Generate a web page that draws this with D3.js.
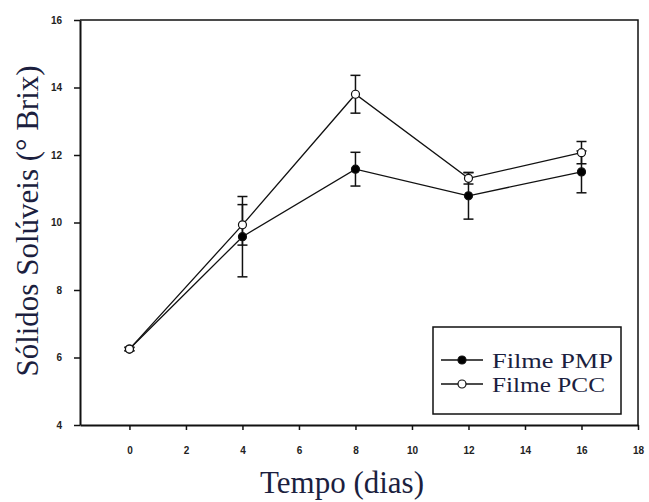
<!DOCTYPE html>
<html>
<head>
<meta charset="utf-8">
<script src="https://cdn.jsdelivr.net/npm/d3@7"></script>
<style>
  body { margin: 0; background: #fff; }
  .tick text { font-family: "Liberation Sans", Arial, sans-serif; font-weight: bold; font-size: 10px; fill: #222; }
</style>
</head>
<body>
<div id="chart"></div>
<script>
// days and means
var days = [0, 4, 8, 12, 16];
var pmp = [6.25, 9.58, 11.58, 10.79, 11.5];
var pmpErr = [0.05, 1.19, 0.5, 0.69, 0.62];
var pcc = [6.25, 9.93, 13.8, 11.31, 12.07];
var pccErr = [0.05, 0.6, 0.56, 0.17, 0.33];
var xTicks = [0, 2, 4, 6, 8, 10, 12, 14, 16, 18];
var yTicks = [4, 6, 8, 10, 12, 14, 16];

"use strict";
var W = 649, H = 502;
var svg = d3.select("#chart").append("svg")
    .attr("width", W).attr("height", H);

var x = d3.scaleLinear().domain([-1.75, 18]).range([80, 638]);
var y = d3.scaleLinear().domain([4, 16]).range([425, 20]);

// frame (top & right)
svg.append("path")
    .attr("d", "M80,20H638V425")
    .attr("fill", "none").attr("stroke", "#111").attr("stroke-width", 1.5);

// axes
var xAxis = svg.append("g")
    .attr("transform", "translate(0,425)")
    .call(d3.axisBottom(x).tickValues(xTicks).tickSize(5).tickSizeOuter(0).tickPadding(17));
var yAxis = svg.append("g")
    .attr("transform", "translate(80,0)")
    .call(d3.axisLeft(y).tickValues(yTicks).tickSize(6).tickSizeOuter(0).tickPadding(12));
[xAxis, yAxis].forEach(function (a) {
    a.select(".domain").attr("stroke", "#111").attr("stroke-width", 2);
    a.selectAll(".tick line").attr("stroke", "#111").attr("stroke-width", 1.5);
});

// titles
svg.append("text")
    .attr("x", 342).attr("y", 493)
    .attr("text-anchor", "middle")
    .style("font-family", "'Liberation Serif', 'Times New Roman', serif")
    .style("font-size", "31px").style("fill", "#1c1f3f")
    .text("Tempo (dias)");
svg.append("text")
    .attr("transform", "translate(38,221) rotate(-90)")
    .attr("text-anchor", "middle")
    .style("font-family", "'Liberation Serif', 'Times New Roman', serif")
    .style("font-size", "31px").style("fill", "#1c1f3f")
    .text("Sólidos Solúveis (° Brix)");

// series
var series = [
    {name: "Filme PMP", vals: pmp, err: pmpErr, fill: "#000", w: 121},
    {name: "Filme PCC", vals: pcc, err: pccErr, fill: "#fff", w: 113}
];
var line = d3.line()
    .x(function (d) { return x(d[0]); })
    .y(function (d) { return y(d[1]); });

series.forEach(function (s) {
    var pts = days.map(function (d, i) { return [d, s.vals[i], s.err[i]]; });
    svg.append("path")
        .datum(pts)
        .attr("d", line)
        .attr("fill", "none").attr("stroke", "#111").attr("stroke-width", 1.3);
    var eb = svg.append("g").selectAll("g").data(pts).enter().append("g")
        .attr("stroke", "#111").attr("stroke-width", 1.5);
    eb.append("line")
        .attr("x1", function (d) { return x(d[0]); })
        .attr("x2", function (d) { return x(d[0]); })
        .attr("y1", function (d) { return y(d[1] - d[2]); })
        .attr("y2", function (d) { return y(d[1] + d[2]); });
    [-1, 1].forEach(function (sg) {
        eb.append("line")
            .attr("x1", function (d) { return x(d[0]) - 5; })
            .attr("x2", function (d) { return x(d[0]) + 5; })
            .attr("y1", function (d) { return y(d[1] + sg * d[2]); })
            .attr("y2", function (d) { return y(d[1] + sg * d[2]); });
    });
});
series.forEach(function (s) {
    svg.append("g").selectAll("circle")
        .data(days.map(function (d, i) { return [d, s.vals[i]]; }))
        .enter().append("circle")
        .attr("cx", function (d) { return x(d[0]); })
        .attr("cy", function (d) { return y(d[1]); })
        .attr("r", 4)
        .attr("fill", s.fill).attr("stroke", "#111").attr("stroke-width", 1.2);
});

// legend
var lg = svg.append("g");
lg.append("rect")
    .attr("x", 433).attr("y", 327).attr("width", 188).attr("height", 87)
    .attr("fill", "#fff").attr("stroke", "#111").attr("stroke-width", 1.5);
series.forEach(function (s, i) {
    var ly = 360 + i * 24;
    lg.append("line")
        .attr("x1", 441).attr("x2", 483).attr("y1", ly).attr("y2", ly)
        .attr("stroke", "#111").attr("stroke-width", 1.5);
    lg.append("circle")
        .attr("cx", 462).attr("cy", ly).attr("r", 4)
        .attr("fill", s.fill).attr("stroke", "#111").attr("stroke-width", 1.2);
    lg.append("text")
        .attr("x", 492).attr("y", ly + 8)
        .attr("textLength", s.w).attr("lengthAdjust", "spacingAndGlyphs")
        .style("font-family", "'Liberation Serif', 'Times New Roman', serif")
        .style("font-size", "22px").style("fill", "#1c1f3f")
        .text(s.name);
});
</script>
</body>
</html>
